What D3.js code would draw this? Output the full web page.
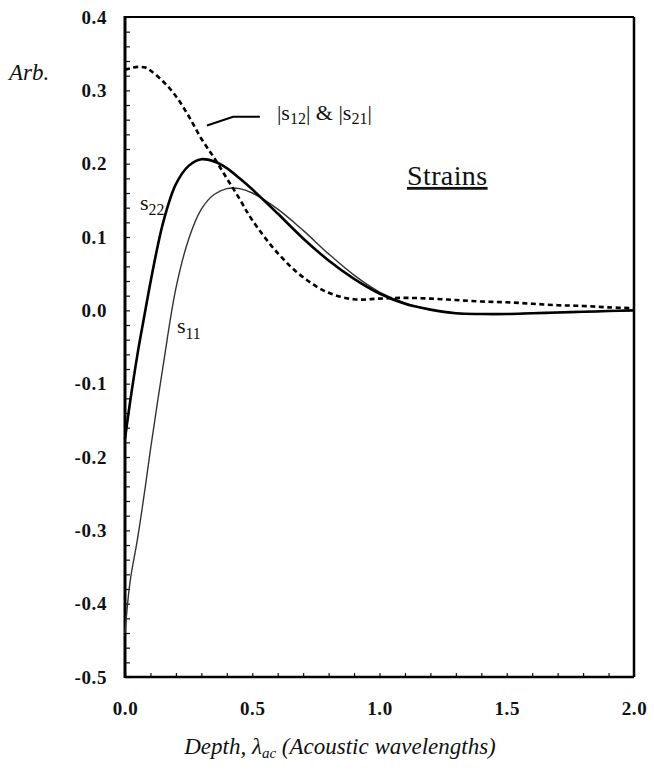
<!DOCTYPE html>
<html>
<head>
<meta charset="utf-8">
<script src="https://cdn.jsdelivr.net/npm/d3@7"></script>
<style>
  html, body { margin: 0; padding: 0; background: #fff; }
  svg { display: block; }
  text { font-family: "Liberation Serif", "Times New Roman", serif; fill: #111; }
</style>
</head>
<body>
<svg id="chart" width="654" height="771"></svg>
<script>
// Depth positions (acoustic wavelengths) shared by all three strain curves
const depth = [0, 0.02, 0.05, 0.08, 0.1, 0.15, 0.2, 0.25, 0.3, 0.35, 0.4, 0.45, 0.5,
  0.6, 0.7, 0.8, 0.9, 1.0, 1.1, 1.2, 1.3, 1.4, 1.5, 1.6, 1.7, 1.8, 1.9, 2.0];

// |s12| & |s21| (shear strain magnitude)
const s12 = [0.328, 0.330, 0.332, 0.331, 0.327, 0.312, 0.292, 0.265, 0.234, 0.208, 0.180, 0.152, 0.123,
  0.078, 0.045, 0.024, 0.015, 0.016, 0.017, 0.016, 0.014, 0.012, 0.011, 0.009, 0.007, 0.006, 0.004, 0.003];

// s22 (normal strain, depth direction)
const s22 = [-0.175, -0.125, -0.058, 0.0, 0.038, 0.12, 0.172, 0.197, 0.206, 0.203, 0.194, 0.180, 0.165,
  0.132, 0.098, 0.068, 0.043, 0.023, 0.009, 0.001, -0.004, -0.005, -0.005, -0.004, -0.003, -0.002, -0.001, 0.000];

// s11 (normal strain, propagation direction)
const s11 = [-0.44, -0.37, -0.31, -0.24, -0.19, -0.075, 0.03, 0.097, 0.138, 0.158, 0.166, 0.166, 0.160,
  0.138, 0.109, 0.077, 0.048, 0.025, 0.010, 0.001, -0.004, -0.005, -0.005, -0.004, -0.003, -0.002, -0.001, 0.000];

// Axis tick values
const xTicks = [0, 0.1, 0.2, 0.3, 0.4, 0.5, 0.6, 0.7, 0.8, 0.9, 1.0, 1.1, 1.2, 1.3, 1.4, 1.5, 1.6, 1.7, 1.8, 1.9, 2.0];
const xLabels = ["0.0", "0.5", "1.0", "1.5", "2.0"];
const yLabels = ["0.4", "0.3", "0.2", "0.1", "0.0", "-0.1", "-0.2", "-0.3", "-0.4", "-0.5"];

const svg = d3.select("#chart");
const plot = { left: 125, right: 634, top: 17, bottom: 677 };

const x = d3.scaleLinear().domain([0, 2]).range([plot.left, plot.right]);
const y = d3.scaleLinear().domain([-0.5, 0.4]).range([plot.bottom, plot.top]);

const yTickVals = d3.range(0, 46).map(i => +(-0.5 + i * 0.02).toFixed(2));
const yLabelMap = new Map(yLabels.map(s => [+s, s]));
const xLabelMap = new Map(xLabels.map(s => [+s, s]));

const tickFont = g => g.selectAll(".tick text")
  .style("font-family", "'Liberation Serif', serif")
  .style("font-size", "19px").style("font-weight", "bold")
  .style("letter-spacing", "0.6px").attr("fill", "#111");

// Left axis: inward minor ticks every 0.02, labels every 0.1
const yAxis = d3.axisLeft(y)
  .tickValues(yTickVals)
  .tickSize(-5)
  .tickPadding(18)
  .tickFormat(v => {
    const key = +v.toFixed(1);
    return Math.abs(v - key) < 1e-6 && yLabelMap.has(key) ? yLabelMap.get(key) : "";
  });

svg.append("g")
  .attr("transform", `translate(${plot.left},0)`)
  .call(yAxis)
  .call(g => g.select(".domain").remove())
  .call(g => g.selectAll(".tick line").attr("stroke", "#111").attr("stroke-width", 1.2))
  .call(tickFont);

// Bottom axis: inward ticks every 0.1, labels every 0.5
const xAxis = d3.axisBottom(x)
  .tickValues(xTicks)
  .tickSize(-4)
  .tickPadding(25)
  .tickFormat(v => {
    const key = +v.toFixed(1);
    return xLabelMap.has(key) && Math.abs(key * 2 - Math.round(key * 2)) < 1e-6 ? xLabelMap.get(key) : "";
  });

svg.append("g")
  .attr("transform", `translate(0,${plot.bottom})`)
  .call(xAxis)
  .call(g => g.select(".domain").remove())
  .call(g => g.selectAll(".tick line").attr("stroke", "#111").attr("stroke-width", 1.2))
  .call(tickFont);

// Frame
svg.append("line").attr("x1", plot.left).attr("x2", plot.left).attr("y1", plot.top - 1).attr("y2", plot.bottom + 1)
  .attr("stroke", "#000").attr("stroke-width", 3);
svg.append("line").attr("x1", plot.left).attr("x2", plot.right).attr("y1", plot.bottom).attr("y2", plot.bottom)
  .attr("stroke", "#000").attr("stroke-width", 2.5);
svg.append("line").attr("x1", plot.left).attr("x2", plot.right).attr("y1", plot.top).attr("y2", plot.top)
  .attr("stroke", "#000").attr("stroke-width", 2);
svg.append("line").attr("x1", plot.right).attr("x2", plot.right).attr("y1", plot.top).attr("y2", plot.bottom)
  .attr("stroke", "#000").attr("stroke-width", 2.5);

// Curves
const line = vals => d3.line()
  .x((d, i) => x(depth[i]))
  .y(d => y(d))
  .curve(d3.curveCatmullRom.alpha(0.5))(vals);

svg.append("path").attr("d", line(s11))
  .attr("fill", "none").attr("stroke", "#333").attr("stroke-width", 1.4);

svg.append("path").attr("d", line(s22))
  .attr("fill", "none").attr("stroke", "#000").attr("stroke-width", 2.6);

svg.append("path").attr("d", line(s12))
  .attr("fill", "none").attr("stroke", "#000").attr("stroke-width", 2.6)
  .attr("stroke-dasharray", "5,3.5");

// Curve labels
function subLabel(xv, yv, base, sub, size) {
  const t = svg.append("text").attr("x", x(xv)).attr("y", y(yv))
    .style("font-size", size + "px");
  t.append("tspan").text(base);
  t.append("tspan").attr("dy", size * 0.25).style("font-size", (size * 0.72) + "px").text(sub);
  return t;
}
subLabel(0.059, 0.137, "s", "22", 22);
subLabel(0.204, -0.031, "s", "11", 22);

// |s12| & |s21| annotation with leader
const lead = [[0.322, 0.252], [0.425, 0.264], [0.53, 0.264]];
svg.append("path")
  .attr("d", d3.line().x(d => x(d[0])).y(d => y(d[1]))(lead))
  .attr("fill", "none").attr("stroke", "#000").attr("stroke-width", 2);

const ann = svg.append("text").attr("x", x(0.597)).attr("y", y(0.26)).style("font-size", "22px");
ann.append("tspan").text("|s");
ann.append("tspan").attr("dy", 4).style("font-size", "16px").text("12");
ann.append("tspan").attr("dy", -4).text("| & |s");
ann.append("tspan").attr("dy", 4).style("font-size", "16px").text("21");
ann.append("tspan").attr("dy", -4).text("|");

// Title inside plot
svg.append("text").attr("x", x(1.108)).attr("y", y(0.171))
  .style("font-size", "28px").style("letter-spacing", "0.4px")
  .style("text-decoration", "underline").text("Strains");

// Axis titles
svg.append("text").attr("x", 9).attr("y", 80)
  .style("font-size", "23px").style("font-style", "italic").text("Arb.");

const xt = svg.append("text").attr("x", 340).attr("y", 754).attr("text-anchor", "middle")
  .style("font-size", "23px").style("font-style", "italic");
xt.append("tspan").text("Depth, λ");
xt.append("tspan").attr("dy", 4).style("font-size", "15px").text("ac");
xt.append("tspan").attr("dy", -4).text(" (Acoustic wavelengths)");
</script>
</body>
</html>
